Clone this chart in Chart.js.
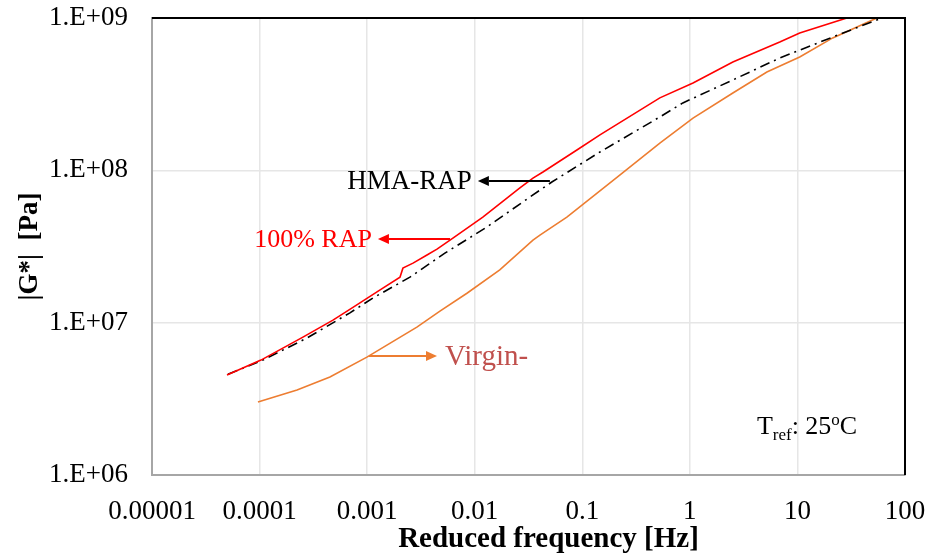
<!DOCTYPE html>
<html lang="en">
<head>
    <meta charset="UTF-8">
    <title>Master curves |G*|</title>
    <script src="https://cdn.jsdelivr.net/npm/chart.js"></script>
    <style>
        body { margin: 0; background: #fff; }
        #wrap { width: 933px; height: 558px; }
    </style>
</head>
<body>
    <div id="wrap"><canvas id="chart" width="933" height="558"></canvas></div>

    <script>
        // 100% RAP
        const rapFreq = [4.98e-5, 1.03e-4, 2.53e-4, 4.81e-4, 7.38e-4, 1.32e-3, 2.02e-3, 2.15e-3, 2.67e-3, 3.60e-3, 4.46e-3, 6.27e-3, 1.19e-2, 2.63e-2, 3.48e-2, 4.31e-2, 8.91e-2, 0.146, 0.526, 1.07, 2.51, 6.85, 10.5, 28.8];
        const rapG = [4.53e6, 5.68e6, 8.04e6, 1.04e7, 1.26e7, 1.64e7, 1.99e7, 2.28e7, 2.46e7, 2.78e7, 3.04e7, 3.59e7, 4.93e7, 7.66e7, 8.89e7, 9.75e7, 1.36e8, 1.71e8, 2.99e8, 3.74e8, 5.14e8, 6.95e8, 7.98e8, 1.0e9];

        // HMA-RAP
        const hmaFreq = [5.08e-5, 1.03e-4, 2.76e-4, 6.92e-4, 1.13e-3, 2.50e-3, 5.28e-3, 1.30e-2, 3.26e-2, 5.21e-2, 0.146, 0.526, 0.861, 2.51, 6.85, 21.3, 60.8];
        const hmaG = [4.59e6, 5.60e6, 7.93e6, 1.16e7, 1.45e7, 1.99e7, 2.86e7, 4.25e7, 6.68e7, 8.38e7, 1.32e8, 2.24e8, 2.77e8, 3.92e8, 5.46e8, 7.50e8, 1.0e9];

        // Virgin binder
        const virginFreq = [9.66e-5, 2.23e-4, 4.51e-4, 9.95e-4, 2.90e-3, 4.75e-3, 8.47e-3, 1.71e-2, 3.48e-2, 4.04e-2, 7.19e-2, 0.223, 0.526, 1.07, 2.51, 5.20, 10.5, 21.3, 54.7];
        const virginG = [3.01e6, 3.61e6, 4.40e6, 5.94e6, 9.35e6, 1.19e7, 1.56e7, 2.22e7, 3.48e7, 3.76e7, 4.93e7, 9.31e7, 1.51e8, 2.20e8, 3.22e8, 4.42e8, 5.55e8, 7.40e8, 1.0e9];

        const xTickValues = [1e-5, 1e-4, 1e-3, 1e-2, 1e-1, 1, 10, 100];
        const xTickLabels = ['0.00001', '0.0001', '0.001', '0.01', '0.1', '1', '10', '100'];
        const yTickValues = [1e6, 1e7, 1e8, 1e9];
        const yTickLabels = ['1.E+06', '1.E+07', '1.E+08', '1.E+09'];

        const serif = '"Liberation Serif", "Times New Roman", serif';

        function toPoints(xs, ys) {
            return xs.map((x, i) => ({ x: x, y: ys[i] }));
        }

        function arrow(ctx, x1, y1, x2, y2, color) {
            const ang = Math.atan2(y2 - y1, x2 - x1);
            const head = 11;
            ctx.strokeStyle = color;
            ctx.fillStyle = color;
            ctx.lineWidth = 2;
            ctx.beginPath();
            ctx.moveTo(x1, y1);
            ctx.lineTo(x2 - head * Math.cos(ang), y2 - head * Math.sin(ang));
            ctx.stroke();
            ctx.beginPath();
            ctx.moveTo(x2, y2);
            ctx.lineTo(x2 - head * Math.cos(ang) - 5 * Math.sin(ang), y2 - head * Math.sin(ang) + 5 * Math.cos(ang));
            ctx.lineTo(x2 - head * Math.cos(ang) + 5 * Math.sin(ang), y2 - head * Math.sin(ang) - 5 * Math.cos(ang));
            ctx.closePath();
            ctx.fill();
        }

        // frame, labels and arrows
        const extras = {
            id: 'extras',
            afterDraw(chart) {
                const { ctx, chartArea: a, scales: { x, y } } = chart;
                ctx.save();

                // black top / right edges
                ctx.strokeStyle = '#000';
                ctx.lineWidth = 2;
                ctx.beginPath();
                ctx.moveTo(a.left, a.top);
                ctx.lineTo(a.right, a.top);
                ctx.lineTo(a.right, a.bottom);
                ctx.stroke();

                ctx.textBaseline = 'middle';

                // HMA-RAP
                let yy = y.getPixelForValue(8.5e7);
                arrow(ctx, x.getPixelForValue(0.05), yy, x.getPixelForValue(0.0107), yy, '#000');
                ctx.font = '27px ' + serif;
                ctx.fillStyle = '#000';
                ctx.textAlign = 'right';
                ctx.fillText('HMA-RAP', x.getPixelForValue(0.0107) - 6, yy + 1);

                // 100% RAP
                yy = y.getPixelForValue(3.54e7);
                arrow(ctx, x.getPixelForValue(5.9e-3), yy, x.getPixelForValue(1.26e-3), yy, '#FF0000');
                ctx.font = '26px ' + serif;
                ctx.fillStyle = '#FF0000';
                ctx.fillText('100% RAP', x.getPixelForValue(1.26e-3) - 6, yy + 1);

                // Virgin-
                yy = y.getPixelForValue(6.04e6);
                arrow(ctx, x.getPixelForValue(1.04e-3), yy, x.getPixelForValue(4.46e-3), yy, '#ED7D31');
                ctx.font = '29px ' + serif;
                ctx.fillStyle = '#C0504D';
                ctx.textAlign = 'left';
                ctx.fillText('Virgin-', x.getPixelForValue(4.46e-3) + 8, yy + 1);

                // T_ref: 25oC
                ctx.fillStyle = '#000';
                ctx.textBaseline = 'alphabetic';
                let tx = x.getPixelForValue(4.2);
                const base = y.getPixelForValue(2.13e6) + 9;
                const parts = [
                    ['T', 26, 0], ['ref', 17, 6], [': 25', 26, 0], ['o', 17, -9], ['C', 26, 0]
                ];
                parts.forEach(([t, s, dy]) => {
                    ctx.font = s + 'px ' + serif;
                    ctx.fillText(t, tx, base + dy);
                    tx += ctx.measureText(t).width;
                });

                // x axis title
                ctx.font = 'bold 29px ' + serif;
                ctx.textAlign = 'center';
                ctx.textBaseline = 'middle';
                ctx.fillText('Reduced frequency [Hz]', (a.left + a.right) / 2 + 20, 540);

                ctx.restore();
            }
        };

        new Chart(document.getElementById('chart'), {
            type: 'line',
            data: {
                datasets: [
                    {
                        label: '100% RAP',
                        data: toPoints(rapFreq, rapG),
                        borderColor: '#FF0000',
                        borderWidth: 1.6,
                        pointRadius: 0,
                        fill: false
                    },
                    {
                        label: 'HMA-RAP',
                        data: toPoints(hmaFreq, hmaG),
                        borderColor: '#000000',
                        borderWidth: 1.6,
                        borderDash: [10, 5, 2, 5],
                        pointRadius: 0,
                        fill: false
                    },
                    {
                        label: 'Virgin-',
                        data: toPoints(virginFreq, virginG),
                        borderColor: '#ED7D31',
                        borderWidth: 1.6,
                        pointRadius: 0,
                        fill: false
                    }
                ]
            },
            options: {
                responsive: false,
                animation: false,
                layout: { padding: { left: 0, right: 28, top: 18, bottom: 0 } },
                plugins: {
                    legend: { display: false },
                    tooltip: { enabled: false }
                },
                scales: {
                    x: {
                        type: 'logarithmic',
                        position: 'bottom',
                        min: 1e-5,
                        max: 100,
                        afterBuildTicks: (s) => { s.ticks = xTickValues.map(v => ({ value: v })); },
                        afterFit: (s) => { s.height = 83; s.paddingLeft = 0; s.paddingRight = 0; },
                        ticks: {
                            autoSkip: false,
                            maxRotation: 0,
                            padding: 21,
                            color: '#000',
                            font: { family: serif, size: 27 },
                            callback: (v, i) => xTickLabels[i]
                        },
                        grid: { color: '#e6e6e6', lineWidth: 1.5, drawTicks: false },
                        border: { color: '#a6a6a6', width: 2 }
                    },
                    y: {
                        type: 'logarithmic',
                        min: 1e6,
                        max: 1e9,
                        afterBuildTicks: (s) => { s.ticks = yTickValues.map(v => ({ value: v })); },
                        afterFit: (s) => { s.width = 152; s.paddingTop = 0; s.paddingBottom = 0; },
                        ticks: {
                            autoSkip: false,
                            padding: 24,
                            color: '#000',
                            font: { family: serif, size: 27 },
                            callback: (v, i) => yTickLabels[i]
                        },
                        grid: { color: '#e6e6e6', lineWidth: 1.5, drawTicks: false },
                        border: { color: '#a6a6a6', width: 2 },
                        title: {
                            display: true,
                            text: '|G*|  [Pa]',
                            color: '#000',
                            font: { family: serif, size: 27, weight: 'bold' },
                            padding: { top: 14, bottom: 0 }
                        }
                    }
                }
            },
            plugins: [extras]
        });
    </script>
</body>
</html>
